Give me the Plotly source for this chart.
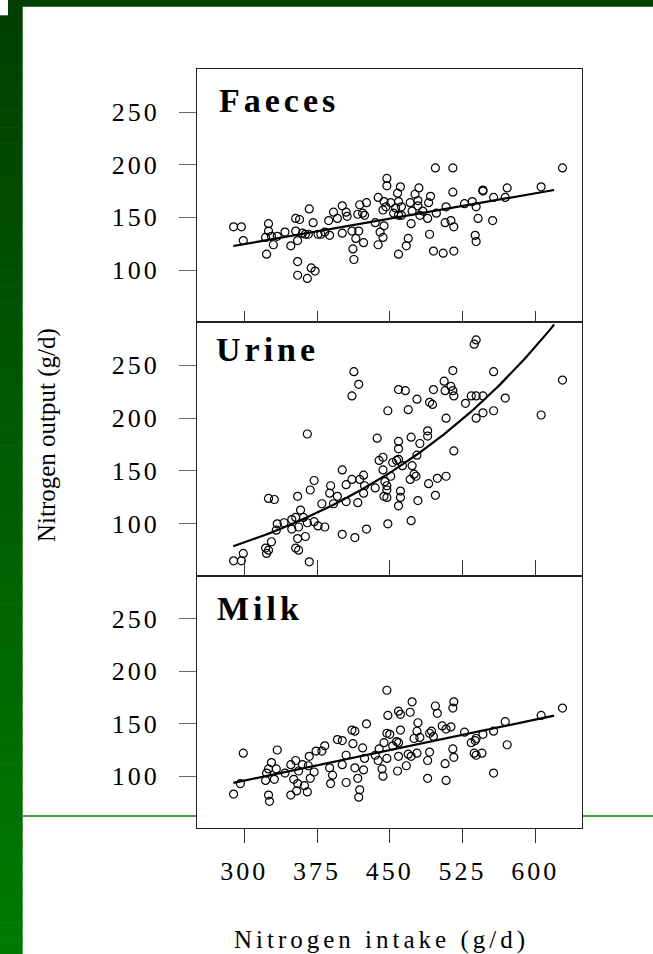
import numpy as np
import plotly.graph_objects as go

W, H = 653, 954

# ---------------- data ----------------
faeces_x = [289,297,299,325,325,322,328,334,330,323,342,348,353,357,353,355,360,363,366,367,
            371,376,379,383,388,387,392,396,401,405,406,401,411,412,413,355,355,365,369,373,
            415,418,417,419,422,424,426,423,435,438,438,440,443,444,443,446,444,447,447,451,
            454,456,458,461,459,459,462,462,459,467,469,472,471,473,476,479,480,479,481,484,
            489,490,492,491,495,498,497,505,507,508,513,516,515,515,516,527,535,538,539,539,
            541,546,546,557,556,569,571,606,628]
faeces_y = [141,141,128,144,137,131,132,132,124,115,136,123,149,148,137,128,135,134,134,158,
            145,134,134,136,133,147,155,149,161,155,151,135,137,120,110,108,95,92,102,99,
            130,137,153,162,154,152,164,126,145,169,124,136,131,142,157,160,165,187,180,164,
            154,159,173,179,165,152,160,152,115,123,130,144,164,156,172,166,178,161,152,156,
            149,164,170,134,118,154,197,116,145,160,147,141,174,197,118,163,165,133,127,160,
            149,175,176,169,147,169,178,179,197]

urine_x = [289,297,299,322,325,323,328,325,331,334,333,341,349,349,353,356,355,353,356,363,
           367,358,355,361,365,372,376,383,368,372,380,388,389,392,396,401,401,405,405,411,
           414,417,419,423,423,424,426,365,411,413,418,435,439,437,443,443,445,447,447,444,
           447,448,451,453,457,459,459,459,461,461,459,448,463,466,469,472,472,473,475,477,
           479,478,481,478,471,459,490,491,494,489,489,495,499,497,506,507,513,515,516,508,
           508,516,515,528,534,539,546,539,546,557,557,569,537,539,606,628]
urine_y = [65,65,72,77,75,72,83,124,123,100,94,101,95,104,106,97,86,77,75,88,
           64,113,126,106,101,102,98,97,132,141,119,129,136,119,126,151,90,137,121,142,
           87,120,142,146,129,136,95,185,221,244,232,134,160,181,163,151,140,136,125,126,
           132,207,145,158,160,178,171,161,131,125,117,100,155,226,208,103,182,155,147,145,
           122,218,176,165,142,227,138,215,213,183,188,227,143,127,235,226,230,226,221,200,
           145,169,245,214,221,221,221,200,205,244,207,219,270,274,203,236]

milk_x = [289,296,299,323,325,328,333,322,331,325,326,334,342,348,353,356,351,355,354,348,
          362,365,360,366,367,372,368,374,380,383,388,391,389,396,401,401,405,405,411,414,
          412,414,417,419,418,422,423,424,426,435,438,439,442,443,444,447,447,448,447,450,
          453,457,459,461,461,459,459,458,467,469,471,472,473,475,478,479,478,481,489,491,
          489,491,493,495,497,499,504,508,513,515,516,515,516,507,508,527,534,538,537,539,
          546,545,539,557,557,569,571,606,628]
milk_y = [83,93,122,103,107,113,107,96,97,82,76,125,103,111,115,105,97,93,86,82,
          91,85,111,110,119,104,98,124,124,129,108,101,93,135,134,111,120,94,144,143,
          131,108,98,87,80,127,106,117,150,120,115,126,107,100,132,141,117,158,182,140,
          129,133,162,159,144,119,132,105,110,121,161,119,171,136,143,151,122,137,98,123,
          115,141,143,138,167,160,148,145,147,165,171,126,118,112,96,142,132,134,122,136,
          140,122,120,143,103,152,130,158,165]

panel_names = ["Faeces", "Urine", "Milk"]
x_ticks = [300, 375, 450, 525, 600]
y_ticks = [100, 150, 200, 250]
x_title = "Nitrogen intake (g/d)"
y_title = "Nitrogen output (g/d)"

# fitted curves (parameters)
faeces_fit = (76.3, 0.161)      # y = a + b x
urine_fit = (25.3, 0.00393)     # y = a * exp(b x)
milk_fit = (37.7, 0.1938)       # y = a + b x
fit_range = (288.7, 619.4)

# ---------------- layout helpers ----------------
def fx(p):
    return p / W

def fy(p):
    return 1 - p / H

PL, PR = 197, 582
panel_px = [(69, 322), (322, 576), (576, 828)]
x_range = [251.3, 648.1]
y_range = [50.6, 291.0]

fig = go.Figure()
xf = np.linspace(fit_range[0], fit_range[1], 120)
fits = [faeces_fit[0] + faeces_fit[1] * xf,
        urine_fit[0] * np.exp(urine_fit[1] * xf),
        milk_fit[0] + milk_fit[1] * xf]
pts = [(faeces_x, faeces_y), (urine_x, urine_y), (milk_x, milk_y)]

for i in range(3):
    xa = "x" if i == 0 else f"x{i+1}"
    ya = "y" if i == 0 else f"y{i+1}"
    fig.add_trace(go.Scatter(x=pts[i][0], y=pts[i][1], mode="markers", xaxis=xa, yaxis=ya,
                             marker=dict(symbol="circle-open", size=8, color="black",
                                         line=dict(width=1.2, color="black")),
                             showlegend=False, hoverinfo="skip"))
    fig.add_trace(go.Scatter(x=xf, y=fits[i], mode="lines", xaxis=xa, yaxis=ya,
                             line=dict(color="black", width=2.2), showlegend=False,
                             hoverinfo="skip", cliponaxis=True))

tickfont = dict(family="Liberation Serif", size=26, color="black")
layout = dict(width=W, height=H, margin=dict(l=0, r=0, t=0, b=0),
              paper_bgcolor="white", plot_bgcolor="white", showlegend=False)

for i in range(3):
    top, bot = panel_px[i]
    xk = "xaxis" if i == 0 else f"xaxis{i+1}"
    yk = "yaxis" if i == 0 else f"yaxis{i+1}"
    ya_name = "y" if i == 0 else f"y{i+1}"
    xa_name = "x" if i == 0 else f"x{i+1}"
    last = (i == 2)
    layout[xk] = dict(domain=[fx(PL), fx(PR)], range=x_range, anchor=ya_name,
                      showgrid=False, zeroline=False, showline=True, linecolor="#222",
                      linewidth=1.2, mirror=True,
                      tickvals=x_ticks, ticktext=[str(v) for v in x_ticks],
                      ticks="outside" if last else "inside",
                      ticklen=14 if last else (11 if i == 0 else 16),
                      tickcolor="#333", tickwidth=1.2, ticklabelstandoff=6,
                      showticklabels=last, tickfont=tickfont)
    layout[yk] = dict(domain=[fy(bot), fy(top)], range=y_range, anchor=xa_name,
                      showgrid=False, zeroline=False, showline=True, linecolor="#222",
                      linewidth=1.2, mirror=True,
                      tickvals=y_ticks, ticktext=[str(v) for v in y_ticks],
                      ticks="outside", ticklen=17, tickcolor="#666", tickwidth=1,
                      ticklabelstandoff=14, tickfont=tickfont)

fig.update_layout(**layout)

# ---------------- background decoration (slide template) ----------------
shapes = []
nb = 60
bar_w = 22.7
for k in range(nb):
    y0 = H * k / nb
    y1 = H * (k + 1) / nb + 0.6
    t = k / (nb - 1)
    g = int(round(64 + t * (122 - 64)))
    shapes.append(dict(type="rect", xref="paper", yref="paper", x0=fx(0), x1=fx(bar_w),
                       y0=fy(y1), y1=fy(y0), fillcolor=f"rgb(0,{g},0)",
                       line=dict(width=0), layer="below"))
shapes.append(dict(type="rect", xref="paper", yref="paper", x0=fx(8), x1=fx(W),
                   y0=fy(6.7), y1=fy(0), fillcolor="rgb(0,64,0)", line=dict(width=0),
                   layer="below"))
shapes.append(dict(type="rect", xref="paper", yref="paper", x0=fx(0), x1=fx(8),
                   y0=fy(15.3), y1=fy(0), fillcolor="white", line=dict(width=0),
                   layer="below"))
for (a, b) in [(bar_w, PL), (PR, W)]:
    shapes.append(dict(type="line", xref="paper", yref="paper", x0=fx(a), x1=fx(b),
                       y0=fy(816), y1=fy(816), line=dict(color="rgb(0,128,0)", width=1.4),
                       layer="below"))
fig.update_layout(shapes=shapes)

# ---------------- text ----------------
ann = []
ann.append(dict(text=y_title, xref="paper", yref="paper", x=fx(47), y=fy(435),
                textangle=-90, showarrow=False, xanchor="center", yanchor="middle",
                font=dict(family="Liberation Serif", size=25, color="black")))
title_pos = [(278, 100.5), (266, 349.5), (259, 608)]
for name, (cx, cy) in zip(panel_names, title_pos):
    ann.append(dict(text=f"<b>{name}</b>", xref="paper", yref="paper", x=fx(cx + 1),
                    y=fy(cy), showarrow=False, xanchor="center", yanchor="middle",
                    font=dict(family="Liberation Serif", size=34, color="black")))
ann.append(dict(text=x_title, xref="paper", yref="paper", x=fx(381), y=fy(940),
                showarrow=False, xanchor="center", yanchor="middle",
                font=dict(family="Liberation Serif", size=25, color="black")))
fig.update_layout(annotations=ann)

css = ("html,body{margin:0;padding:0;overflow:hidden}"
       " g[class$='tick'] text{letter-spacing:3px}"
       " g.annotation text{letter-spacing:4px}"
       " g.annotation[data-index='0'] text{letter-spacing:0px}")
post = ("var s=document.createElement('style');s.textContent=\"" + css +
        "\";document.head.appendChild(s);")

fig.write_html("out.html", post_script=post, config={"displayModeBar": False})
